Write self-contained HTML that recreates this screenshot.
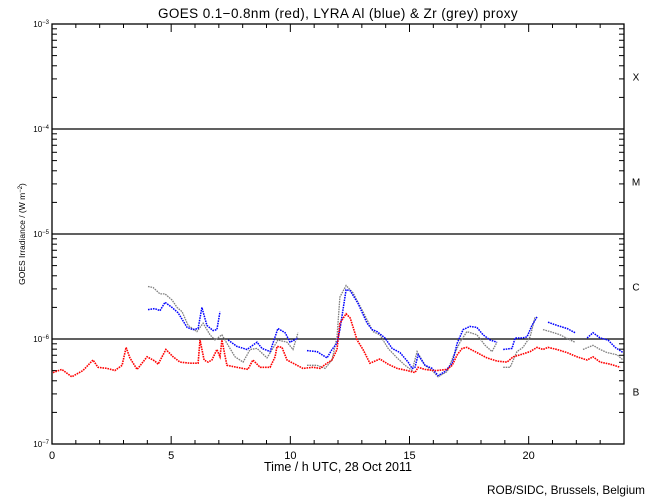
<!DOCTYPE html>
<html><head><meta charset="utf-8"><style>
html,body{margin:0;padding:0;background:#fff;}
svg{display:block;font-family:"Liberation Sans",sans-serif;}
</style></head><body>
<svg id="chart" width="650" height="500" viewBox="0 0 650 500" xmlns="http://www.w3.org/2000/svg">
<rect width="650" height="500" fill="#fff"/>
<text x="338" y="18" font-size="13.5" letter-spacing="0.4" text-anchor="middle">GOES 0.1−0.8nm (red), LYRA Al (blue) &amp; Zr (grey) proxy</text>
<text x="338" y="471" font-size="12.5" text-anchor="middle">Time / h UTC, 28 Oct 2011</text>
<text transform="translate(25,234) rotate(-90)" font-size="8.5" text-anchor="middle">GOES Irradiance / (W m<tspan dy="-3" font-size="6">−2</tspan><tspan dy="3">)</tspan></text>
<text x="645" y="494" font-size="11.8" text-anchor="end">ROB/SIDC, Brussels, Belgium</text>
<g id="axes"></g>
<g id="series"></g>
</svg>
<script>
const hours = [0,5,10,15,20];
const decades = [-7,-6,-5,-4,-3];
const flareClasses = ['B','C','M','X'];
const redT = [0.04,0.41,0.83,1.30,1.72,1.93,2.31,2.64,2.94,3.11,3.27,3.57,3.99,4.32,4.45,4.78,5.08,5.37,5.79,6.13,6.21,6.38,6.55,6.71,6.92,7.05,7.13,7.34,7.76,8.22,8.43,8.73,9.15,9.36,9.44,9.65,9.86,10.11,10.53,10.95,11.25,11.54,11.75,11.96,12.08,12.34,12.51,12.80,13.05,13.34,13.76,14.10,14.48,14.90,15.23,15.36,15.65,15.99,16.16,16.58,16.79,17.00,17.21,17.41,17.83,18.25,18.67,19.09,19.35,19.64,20.06,20.35,20.60,20.81,21.19,21.61,22.03,22.45,22.70,23.00,23.42,23.84];
const redLog = [-6.32,-6.29,-6.36,-6.30,-6.20,-6.27,-6.28,-6.30,-6.25,-6.08,-6.18,-6.29,-6.17,-6.21,-6.24,-6.10,-6.17,-6.22,-6.23,-6.23,-6.01,-6.20,-6.22,-6.20,-6.10,-6.17,-6.01,-6.25,-6.27,-6.29,-6.20,-6.27,-6.27,-6.17,-6.07,-6.08,-6.20,-6.23,-6.28,-6.27,-6.28,-6.23,-6.20,-6.10,-5.85,-5.76,-5.80,-6.01,-6.10,-6.23,-6.19,-6.24,-6.28,-6.30,-6.32,-6.27,-6.29,-6.30,-6.30,-6.29,-6.25,-6.15,-6.09,-6.08,-6.13,-6.18,-6.21,-6.22,-6.17,-6.15,-6.12,-6.08,-6.10,-6.08,-6.10,-6.13,-6.17,-6.20,-6.17,-6.22,-6.24,-6.27];
const blueT = [4.03,4.32,4.53,4.74,5.04,5.29,5.67,5.92,6.13,6.29,6.50,6.76,6.92,7.05,null,7.39,7.76,8.18,8.60,8.81,9.15,9.48,9.78,9.99,10.32,null,10.70,11.12,11.54,11.75,11.96,12.08,12.34,12.51,12.84,13.22,13.43,13.64,13.97,14.27,14.60,14.94,15.11,15.23,15.36,15.65,15.95,16.20,16.49,16.79,17.00,17.25,17.54,17.83,18.09,18.38,18.67,null,18.93,19.30,19.43,19.72,19.93,20.14,20.35,null,20.81,21.19,21.61,21.95,null,22.45,22.70,23.00,23.33,23.63,23.96];
const blueLog = [-5.72,-5.71,-5.73,-5.65,-5.70,-5.75,-5.89,-5.91,-5.90,-5.70,-5.87,-5.92,-5.91,-5.74,null,-6.01,-6.07,-6.10,-6.03,-6.09,-6.12,-5.90,-5.94,-6.03,-5.99,null,-6.11,-6.12,-6.18,-6.10,-6.04,-5.91,-5.53,-5.54,-5.66,-5.85,-5.91,-5.93,-5.99,-6.09,-6.13,-6.22,-6.28,-6.27,-6.15,-6.25,-6.28,-6.35,-6.31,-6.23,-6.04,-5.91,-5.88,-5.89,-5.96,-6.01,-6.03,null,-6.10,-6.09,-5.99,-5.99,-5.98,-5.87,-5.79,null,-5.84,-5.87,-5.90,-5.94,null,-5.99,-5.94,-5.99,-6.01,-6.08,-6.13];
const greyT = [4.03,4.24,4.53,4.74,5.04,5.25,5.46,5.71,6.08,6.34,6.63,6.84,7.13,7.39,7.68,8.02,8.31,8.60,9.02,9.27,9.48,9.86,10.11,10.32,null,10.70,11.12,11.46,11.75,11.96,12.08,12.34,12.63,13.05,13.47,13.76,14.10,14.48,14.81,15.11,15.32,15.65,15.95,16.20,16.58,16.83,17.12,17.41,17.83,18.17,18.46,18.67,null,18.93,19.22,19.51,19.76,20.06,20.27,null,20.60,20.90,21.32,21.74,21.95,null,22.28,22.70,23.00,23.29,23.71,23.96];
const greyLog = [-5.50,-5.51,-5.57,-5.57,-5.63,-5.70,-5.74,-5.87,-5.93,-5.85,-5.96,-6.01,-5.96,-6.06,-6.17,-6.22,-6.10,-6.09,-6.18,-6.09,-6.01,-6.03,-6.10,-5.94,null,-6.25,-6.25,-6.28,-6.20,-5.98,-5.60,-5.49,-5.56,-5.74,-5.93,-5.96,-6.09,-6.18,-6.25,-6.30,-6.12,-6.25,-6.30,-6.36,-6.31,-6.17,-6.03,-5.93,-5.96,-6.06,-6.12,-6.03,null,-6.27,-6.27,-6.12,-6.08,-5.98,-5.79,null,-5.91,-5.93,-5.96,-6.01,-6.03,null,-6.10,-6.06,-6.10,-6.13,-6.15,-6.20];

const NS='http://www.w3.org/2000/svg';
const L=52,R=624,T=24,B=444;
const xs=h=>L+(h/24)*(R-L);
const ys=lg=>T+(-3-lg)*(B-T)/4;
function mk(tag,attrs,parent){const e=document.createElementNS(NS,tag);for(const k in attrs)e.setAttribute(k,attrs[k]);parent.appendChild(e);return e;}
const ax=document.getElementById('axes');
const frame=mk('rect',{x:L,y:T,width:R-L,height:B-T,fill:'none',stroke:'#000','stroke-width':1.3},ax);


for(let h=0;h<=24;h++){
  const len=(h%5===0)?8:4;
  const t1=mk('line',{x1:xs(h),x2:xs(h),y1:B,y2:B-len,stroke:'#000','stroke-width':1},ax);
  
  
  const t2=mk('line',{x1:xs(h),x2:xs(h),y1:T,y2:T+len,stroke:'#000','stroke-width':1},ax);
  
  
}
hours.forEach(h=>{
  const t=mk('text',{x:xs(h),y:B+15,'font-size':11,'text-anchor':'middle'},ax);
  t.textContent=String(h);
  
  
});
decades.forEach((d,i)=>{
  const y=ys(d);
  if(d>-7&&d<-3){
    const g=mk('line',{x1:L,x2:R,y1:y,y2:y,stroke:'#000','stroke-width':1.3},ax);
    
    
  }
  const t=mk('text',{x:L-3,y:y+3,'font-size':8,'text-anchor':'end'},ax);
  t.innerHTML='10<tspan dy="-3" font-size="6">'+d.toString().replace('-','−')+'</tspan>';
  
  
  if(i<decades.length-1){
    for(let m=2;m<=9;m++){
      const yy=ys(d+Math.log10(m));
      const a=mk('line',{x1:L,x2:L+5,y1:yy,y2:yy,stroke:'#000','stroke-width':1},ax);
      
      
      const b=mk('line',{x1:R,x2:R-5,y1:yy,y2:yy,stroke:'#000','stroke-width':1},ax);
      
      
    }
    const c=mk('text',{x:R+12,y:ys(d+0.5)+4,'font-size':10,'text-anchor':'middle'},ax);
    c.textContent=flareClasses[i];
    
    
  }
});
const sg=document.getElementById('series');
function drawSeries(ts,vals,color,name,w){
  let d='',pen=false;
  for(let i=0;i<ts.length;i++){
    if(ts[i]===null||vals[i]===null){pen=false;continue;}
    d+=(pen?'L':'M')+xs(ts[i]).toFixed(1)+' '+ys(vals[i]).toFixed(1)+' ';
    pen=true;
  }
  const p=mk('path',{d:d,fill:'none',stroke:color,'stroke-width':w,'stroke-dasharray':'1.6 0.9'},sg);
  
  
}
drawSeries(greyT,greyLog,'#808080','zr-grey-series',1.3);
drawSeries(blueT,blueLog,'#0000ff','al-blue-series',1.5);
drawSeries(redT,redLog,'#ff0000','goes-red-series',1.6);
</script>
</body></html>
